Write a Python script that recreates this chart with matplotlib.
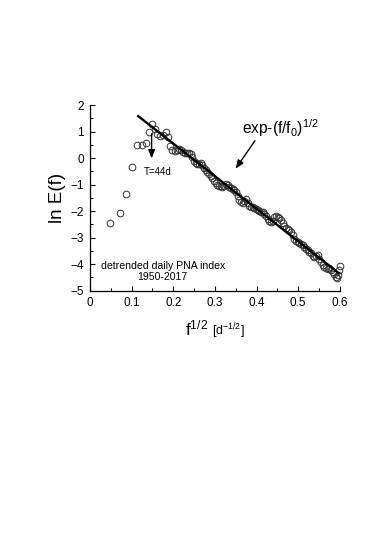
import matplotlib
matplotlib.use('Agg')
import matplotlib.pyplot as plt
from matplotlib.ticker import MultipleLocator

# spectrum points: sqrt(f) vs ln E(f)
sqrt_f = [0.048, 0.072, 0.087, 0.100, 0.113, 0.124, 0.134, 0.142, 0.150, 0.156,
          0.162, 0.167, 0.176, 0.182, 0.188, 0.193, 0.198, 0.203, 0.208, 0.213,
          0.218, 0.223, 0.228, 0.233, 0.238, 0.242, 0.246, 0.250, 0.254, 0.258,
          0.262, 0.266, 0.270, 0.274, 0.278, 0.282, 0.286, 0.290, 0.294, 0.298,
          0.302, 0.306, 0.310, 0.314, 0.318, 0.322, 0.327, 0.331, 0.335, 0.339,
          0.343, 0.347, 0.351, 0.355, 0.359, 0.363, 0.367, 0.371, 0.375, 0.379,
          0.383, 0.387, 0.391, 0.395, 0.399, 0.403, 0.407, 0.411, 0.415, 0.419,
          0.423, 0.427, 0.431, 0.435, 0.439, 0.443, 0.447, 0.451, 0.455, 0.459,
          0.463, 0.467, 0.471, 0.475, 0.479, 0.483, 0.487, 0.491, 0.495, 0.499,
          0.503, 0.507, 0.511, 0.515, 0.519, 0.523, 0.527, 0.531, 0.535, 0.539,
          0.543, 0.547, 0.551, 0.555, 0.559, 0.563, 0.567, 0.571, 0.575, 0.579,
          0.583, 0.587, 0.590, 0.593, 0.595, 0.597, 0.600]
ln_E = [-2.47, -2.07, -1.37, -0.35, 0.51, 0.51, 0.56, 0.98, 1.30, 1.10,
        0.90, 0.84, 0.86, 0.98, 0.80, 0.45, 0.32, 0.28, 0.30, 0.34,
        0.30, 0.24, 0.20, 0.18, 0.20, 0.15, 0.04, -0.10, -0.20, -0.24,
        -0.22, -0.20, -0.28, -0.36, -0.45, -0.52, -0.60, -0.68, -0.76, -0.85,
        -0.95, -1.02, -1.06, -1.05, -1.08, -1.04, -0.98, -1.00, -1.08, -1.14,
        -1.17, -1.22, -1.30, -1.42, -1.58, -1.66, -1.70, -1.62, -1.56, -1.70,
        -1.80, -1.84, -1.86, -1.90, -1.92, -1.95, -1.98, -2.02, -2.05, -2.10,
        -2.18, -2.30, -2.38, -2.42, -2.36, -2.24, -2.20, -2.22, -2.26, -2.32,
        -2.45, -2.58, -2.64, -2.66, -2.72, -2.80, -2.92, -3.04, -3.12, -3.16,
        -3.20, -3.24, -3.30, -3.36, -3.42, -3.48, -3.55, -3.60, -3.68, -3.72,
        -3.68, -3.66, -3.80, -3.92, -4.04, -4.10, -4.14, -4.18, -4.16, -4.22,
        -4.30, -4.38, -4.48, -4.52, -4.42, -4.22, -4.08]

# stretched exponential fit line
fit_x = [0.116, 0.598]
fit_y = [1.58, -4.35]

xticks = [0, 0.1, 0.2, 0.3, 0.4, 0.5, 0.6]
xtick_labels = ['0', '0.1', '0.2', '0.3', '0.4', '0.5', '0.6']

plt.rcParams['font.family'] = ['Liberation Sans', 'DejaVu Sans']
plt.rcParams['mathtext.fontset'] = 'custom'
plt.rcParams['mathtext.rm'] = 'Liberation Sans'
plt.rcParams['mathtext.it'] = 'Liberation Sans'
plt.rcParams['mathtext.default'] = 'regular'

fig = plt.figure(figsize=(3.74, 5.36), dpi=100)
ax = fig.add_axes([0.2406, 0.458, 0.668, 0.346])

ax.plot(sqrt_f, ln_E, 'o', mfc='none', mec='#333333', mew=0.7, ms=4.8,
        clip_on=False, zorder=2)
ax.plot(fit_x, fit_y, '-', color='black', lw=1.7, zorder=3)

ax.set_xlim(0, 0.6)
ax.set_ylim(-5, 2)
ax.set_xticks(xticks)
ax.set_xticklabels(xtick_labels)
ax.xaxis.set_minor_locator(MultipleLocator(0.05))
ax.yaxis.set_major_locator(MultipleLocator(1))
ax.yaxis.set_minor_locator(MultipleLocator(0.5))

for s in ['top', 'right']:
    ax.spines[s].set_visible(False)
for s in ['left', 'bottom']:
    ax.spines[s].set_linewidth(0.9)
ax.tick_params(which='major', direction='in', length=3.5, width=0.8,
               labelsize=8.5, pad=4.5)
ax.tick_params(which='minor', direction='in', length=2, width=0.7)

ax.set_ylabel('ln E(f)', fontsize=13.5, labelpad=3)

# x label: big f^1/2 plus smaller unit
fig.text(0.558, 0.374, 'f$^{1/2}$', fontsize=12.5, ha='right', va='baseline')
fig.text(0.568, 0.374, '[d$^{-1/2}$]', fontsize=9, ha='left', va='baseline')

ax.text(0.176, -4.08, 'detrended daily PNA index', fontsize=7.6,
        ha='center', va='center')
ax.text(0.174, -4.5, '1950-2017', fontsize=7.6, ha='center', va='center')

ax.annotate('', xy=(0.148, -0.12), xytext=(0.148, 1.02),
            arrowprops=dict(arrowstyle='-|>,head_length=0.5,head_width=0.2',
                            color='black', lw=1.0))
ax.text(0.163, -0.51, 'T=44d', fontsize=7, ha='center', va='center')

ax.annotate('', xy=(0.346, -0.49), xytext=(0.400, 0.74),
            arrowprops=dict(arrowstyle='-|>,head_length=0.5,head_width=0.2',
                            color='black', lw=1.0))
ax.text(0.458, 1.12, 'exp-(f/f$_0$)$^{1/2}$', fontsize=11.2,
        ha='center', va='center')

fig.savefig('out.png', dpi=100)
